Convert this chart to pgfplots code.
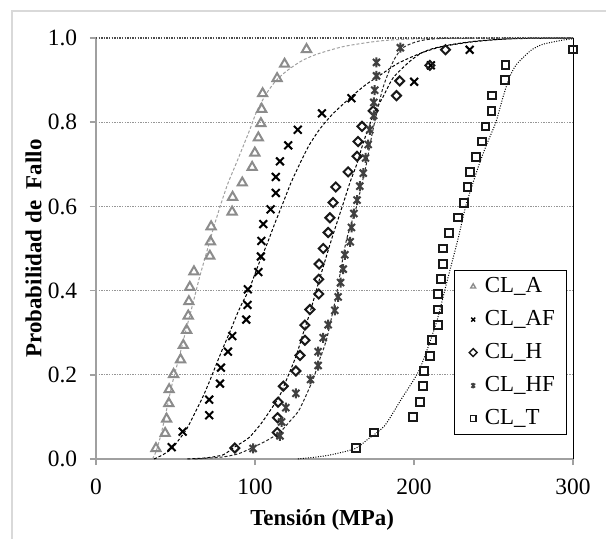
\documentclass[border=0pt]{standalone}
\usepackage{fontspec}
\setmainfont{Liberation Serif}
\usepackage{pgfplots}
\pgfplotsset{compat=1.18}

\definecolor{markA}{RGB}{140,140,140}
\definecolor{curveA}{RGB}{160,160,160}
\definecolor{markHF}{RGB}{64,64,64}
\definecolor{axisgray}{RGB}{160,160,160}
\definecolor{gridgray}{RGB}{150,150,150}
\definecolor{framegray}{RGB}{217,217,217}

% Excel style star: a cross with a vertical bar
\pgfdeclareplotmark{xstar}{%
  \pgfpathmoveto{\pgfqpoint{-.7\pgfplotmarksize}{-.7\pgfplotmarksize}}%
  \pgfpathlineto{\pgfqpoint{.7\pgfplotmarksize}{.7\pgfplotmarksize}}%
  \pgfpathmoveto{\pgfqpoint{-.7\pgfplotmarksize}{.7\pgfplotmarksize}}%
  \pgfpathlineto{\pgfqpoint{.7\pgfplotmarksize}{-.7\pgfplotmarksize}}%
  \pgfpathmoveto{\pgfqpoint{0pt}{-\pgfplotmarksize}}%
  \pgfpathlineto{\pgfqpoint{0pt}{\pgfplotmarksize}}%
  \pgfusepathqstroke}

% measured points (Weibull plots of strength)
\pgfplotstableread{
x y
37.7 0.025
43.5 0.061
44.4 0.095
45.8 0.132
46.0 0.165
48.8 0.201
53.2 0.236
54.9 0.270
57.0 0.306
58.0 0.340
58.4 0.374
59.0 0.408
61.6 0.445
71.6 0.482
72.0 0.516
72.4 0.552
85.6 0.587
85.9 0.622
92.0 0.656
98.2 0.693
99.9 0.727
102.1 0.763
103.7 0.797
104.2 0.831
104.8 0.868
113.9 0.904
118.6 0.938
132.4 0.973
}\dataA
\pgfplotstableread{
x y
47.6 0.028
54.5 0.065
71.2 0.104
71.2 0.141
78.0 0.179
78.6 0.217
83.0 0.255
85.7 0.292
94.5 0.331
95.3 0.366
95.5 0.403
102.1 0.444
103.7 0.481
104.0 0.518
105.2 0.558
109.8 0.593
113.1 0.632
113.1 0.670
115.7 0.707
120.9 0.745
126.9 0.782
142.1 0.821
160.7 0.857
200.1 0.896
210.6 0.935
235.0 0.972
}\dataAF
\pgfplotstableread{
x y
87.3 0.026
114.0 0.063
114.2 0.098
114.5 0.135
117.8 0.173
125.7 0.209
128.3 0.246
131.4 0.282
131.4 0.318
134.5 0.355
140.1 0.392
140.1 0.427
140.3 0.463
142.9 0.500
146.0 0.538
147.1 0.573
149.1 0.609
150.8 0.646
158.6 0.682
164.2 0.719
164.8 0.754
167.3 0.790
174.3 0.827
189.0 0.863
191.0 0.898
210.0 0.935
219.8 0.972
}\dataH
\pgfplotstableread{
x y
98.8 0.025
115.7 0.055
116.7 0.088
119.4 0.122
125.7 0.156
134.9 0.189
139.7 0.222
139.7 0.255
142.9 0.288
146.0 0.319
150.2 0.353
152.3 0.385
153.8 0.419
155.5 0.451
156.5 0.485
159.9 0.516
160.7 0.550
162.2 0.583
164.2 0.615
165.9 0.648
168.1 0.679
169.5 0.715
171.2 0.747
172.2 0.782
174.7 0.816
174.7 0.847
175.3 0.876
176.4 0.910
176.4 0.942
191.4 0.977
}\dataHF
\pgfplotstableread{
x y
163.4 0.026
174.7 0.063
199.5 0.100
203.6 0.136
205.7 0.173
206.3 0.209
210.0 0.244
211.4 0.282
215.2 0.318
215.2 0.355
215.2 0.392
216.8 0.427
218.3 0.463
218.3 0.500
222.1 0.537
227.7 0.574
231.3 0.608
233.6 0.646
235.1 0.682
238.9 0.717
242.8 0.754
245.0 0.790
248.7 0.827
249.0 0.863
257.1 0.900
257.5 0.936
300.0 0.973
}\dataT

% fitted curves
\pgfplotstableread{
x y
35.5 0.000
38.0 0.020
41.0 0.060
44.0 0.110
48.0 0.180
52.5 0.245
56.5 0.305
61.0 0.370
65.0 0.430
69.5 0.490
74.0 0.550
78.5 0.605
83.0 0.655
88.5 0.705
96.5 0.780
101.0 0.825
107.0 0.867
113.0 0.898
120.0 0.922
129.0 0.945
138.5 0.961
156.0 0.980
178.5 0.993
200.0 0.998
230.0 1.000
}\fitA
\pgfplotstableread{
x y
36.5 0.000
42.0 0.010
47.5 0.024
52.0 0.045
57.0 0.071
62.0 0.108
67.5 0.150
72.0 0.190
76.0 0.228
80.0 0.265
84.0 0.300
90.0 0.355
96.5 0.405
102.0 0.460
107.5 0.510
112.5 0.560
117.5 0.607
122.5 0.655
128.0 0.700
134.0 0.745
141.0 0.785
149.0 0.820
161.0 0.862
170.0 0.890
178.0 0.910
190.0 0.940
205.0 0.965
220.0 0.982
240.0 0.993
265.0 0.999
300.0 1.000
}\fitAF
\pgfplotstableread{
x y
57.5 0.000
70.0 0.003
80.0 0.010
87.0 0.028
96.0 0.050
103.0 0.080
109.0 0.112
115.5 0.150
120.0 0.190
125.8 0.244
130.0 0.295
134.5 0.347
140.5 0.426
148.0 0.520
155.5 0.607
160.0 0.660
164.0 0.700
168.0 0.750
172.3 0.796
176.0 0.830
180.5 0.860
187.0 0.906
197.5 0.945
205.0 0.965
214.0 0.977
235.0 0.990
260.0 0.998
300.0 1.000
}\fitH
\pgfplotstableread{
x y
62.0 0.000
80.0 0.005
90.0 0.013
99.0 0.028
107.0 0.043
115.5 0.063
122.0 0.090
128.0 0.118
136.5 0.189
140.5 0.235
145.0 0.284
151.0 0.386
154.0 0.450
157.5 0.520
163.8 0.599
167.0 0.650
170.0 0.700
172.5 0.750
175.0 0.796
180.5 0.882
187.0 0.945
193.0 0.977
203.5 0.993
220.0 0.999
300.0 1.000
}\fitHF
\pgfplotstableread{
x y
127.0 0.000
145.0 0.008
162.5 0.024
171.0 0.047
181.5 0.079
192.0 0.142
203.5 0.213
214.0 0.323
220.5 0.418
227.5 0.520
233.0 0.607
241.0 0.700
246.0 0.750
251.5 0.800
256.0 0.860
260.0 0.906
264.0 0.935
268.5 0.953
274.0 0.972
281.0 0.985
293.5 0.995
300.0 0.998
}\fitT

\begin{document}
\fontsize{23}{27}\selectfont
\begin{tikzpicture}
\useasboundingbox (0,0) rectangle (606bp,539bp);
\fill[white] (0,0) rectangle (606bp,539bp);
\draw[framegray, line width=1.5bp] (12bp,-5bp) -- (12bp,528bp) -- (615bp,528bp);
\begin{axis}[
  at={(96bp,80bp)}, anchor=origin,
  scale only axis, width=477bp, height=421bp,
  xmin=0, xmax=300, ymin=0, ymax=1,
  axis lines*=left,
  axis line style={draw=axisgray, line width=2.2bp},
  xtick={0,100,200,300}, ytick={0,0.2,0.4,0.6,0.8,1},
  tick align=outside, major tick length=6bp,
  tick style={draw=axisgray, line width=1.5bp},
  ymajorgrids,
  grid style={draw=gridgray, line width=1.3bp, dash pattern=on 1.3bp off 1.3bp},
  /pgf/number format/assume math mode=true,
  yticklabel style={xshift=-5bp, /pgf/number format/.cd, fixed, fixed zerofill, precision=1},
  xticklabel style={yshift=-6bp},
  every tick label/.append style={font=\fontsize{23.5}{27}\selectfont},
  every axis x label/.style={at={(axis description cs:0.474,-0.145)}, anchor=center},
  every axis y label/.style={at={(axis description cs:-0.131,0.5)}, rotate=90, anchor=center},
  xlabel={\bfseries Tensión (MPa)},
  ylabel={\bfseries Probabilidad de~~Fallo},
  legend cell align=left,
  legend style={at={(axis description cs:0.7505,0.449)}, anchor=north west,
    draw=black, line width=1.2bp, fill=white, inner xsep=12bp, inner ysep=6bp,
    row sep=13bp, column sep=5bp,
    font=\fontsize{23}{27}\selectfont,
    nodes={inner sep=0bp, text height=16bp, text depth=4bp}},
  legend image code/.code={\path (-6bp,0bp) (6bp,0bp); \draw[#1, mark size=2.8bp, every mark/.append style={line width=1.4bp}] plot coordinates {(0bp,0bp)};},
  clip=false
]
% fitted curves
\addplot[forget plot, curveA, line width=1bp, dash pattern=on 3bp off 2bp, smooth, tension=0.4] table {\fitA};
\addplot[forget plot, black, line width=1bp, dash pattern=on 3bp off 2bp, smooth, tension=0.4] table {\fitAF};
\addplot[forget plot, black, line width=1bp, dash pattern=on 3bp off 2bp, smooth, tension=0.4] table {\fitH};
\addplot[forget plot, black!85, line width=1bp, dash pattern=on 3bp off 2bp, smooth, tension=0.4] table {\fitHF};
\addplot[forget plot, black, line width=1bp, dash pattern=on 1bp off 1.5bp, smooth, tension=0.4] table {\fitT};
% frame on top and right
\draw[black!70, line width=1.3bp, dash pattern=on 1.3bp off 1.3bp] (axis cs:0,1) -- (axis cs:300,1);
\draw[black, line width=1bp] (axis cs:300,0) -- (axis cs:300,1);
% measured points
\addplot[only marks, mark=triangle, mark size=5.3bp, color=markA, mark options={solid, line width=2bp}] table {\dataA};
\addplot[only marks, mark=x, mark size=5.5bp, color=black, mark options={solid, line width=2bp}] table {\dataAF};
\addplot[only marks, mark=square, mark size=3.2bp, color=black!90, mark options={solid, rotate=45, line width=2bp}] table {\dataH};
\addplot[only marks, mark=xstar, mark size=5bp, color=markHF, mark options={solid, line width=2bp}] table {\dataHF};
\addplot[only marks, mark=square, mark size=3.8bp, color=black!90, mark options={solid, line width=2bp}] table {\dataT};
\legend{CL\_A, CL\_AF, CL\_H, CL\_HF, CL\_T}
\end{axis}
\end{tikzpicture}
\end{document}
